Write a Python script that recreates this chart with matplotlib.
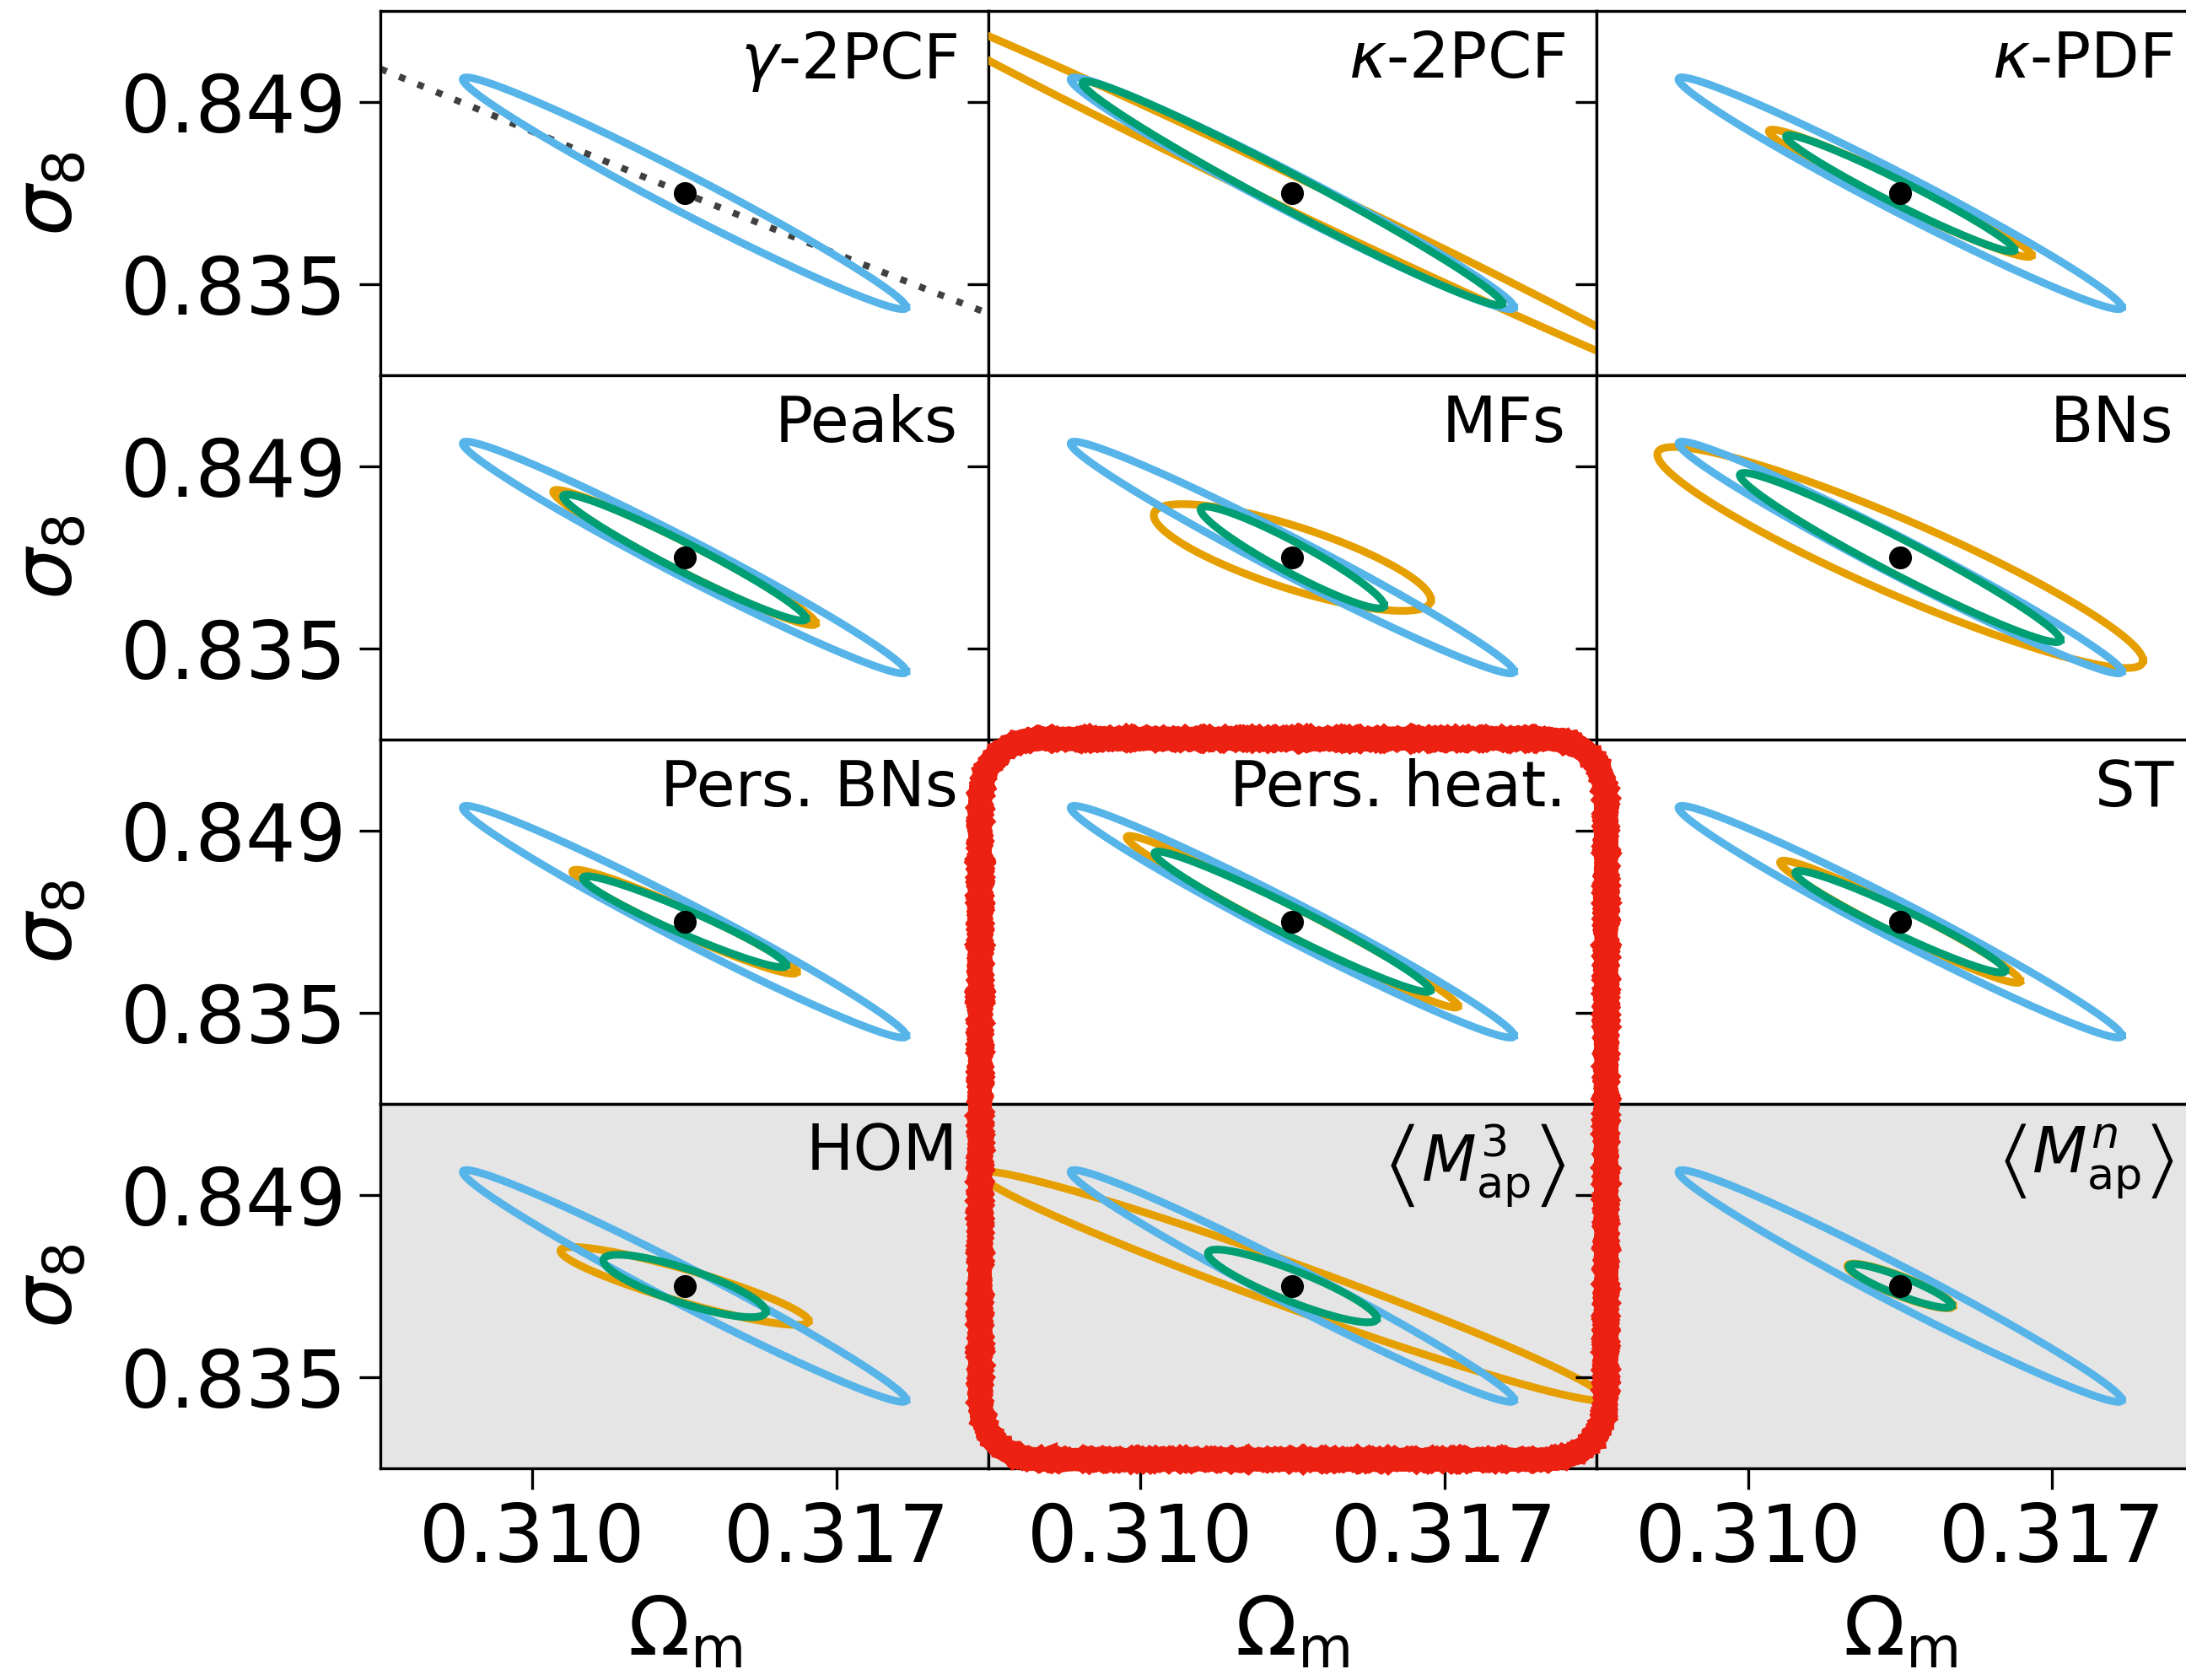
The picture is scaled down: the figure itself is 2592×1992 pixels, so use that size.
import numpy as np
import matplotlib.pyplot as plt
from matplotlib.patches import FancyBboxPatch

plt.rcParams['font.family'] = ['DejaVu Sans']
plt.rcParams['mathtext.fontset'] = 'dejavusans'
plt.rc('xtick', labelsize=22.5)
plt.rc('ytick', labelsize=22.5)
plt.rc('axes', labelsize=23)

# fiducial cosmology
om_fid = 0.3135
s8_fid = 0.842
k68 = 1.52  # sqrt(delta chi^2) for a 68% contour with 2 parameters

probes = [r'$\gamma$-2PCF', r'$\kappa$-2PCF', r'$\kappa$-PDF',
          'Peaks', 'MFs', 'BNs',
          'Pers. BNs', 'Pers. heat.', 'ST',
          'HOM', r'$\left\langle M_{\rm ap}^3 \right\rangle$',
          r'$\left\langle M_{\rm ap}^n \right\rangle$']

# gamma-2PCF alone (shown in every panel)
ref_sig_om = 0.00336
ref_sig_s8 = 0.00586
ref_rho = -0.9837

# each statistic alone
alone_sig_om = [np.nan, 0.00625, 0.00199, 0.00199, 0.00210, 0.00368,
                0.00170, 0.00251, 0.00182, 0.00188, 0.00474, 0.00080]
alone_sig_s8 = [np.nan, 0.01000, 0.00322, 0.00342, 0.00270, 0.00559,
                0.00263, 0.00434, 0.00309, 0.00197, 0.00579, 0.00113]
alone_rho = [np.nan, -0.9958, -0.9745, -0.9730, -0.7926, -0.9311,
             -0.9649, -0.9833, -0.9722, -0.9012, -0.9789, -0.8853]

# statistic combined with gamma-2PCF
comb_sig_om = [np.nan, 0.00318, 0.00173, 0.00184, 0.00139, 0.00243,
               0.00154, 0.00209, 0.00159, 0.00123, 0.00128, 0.00078]
comb_sig_s8 = [np.nan, 0.00566, 0.00294, 0.00319, 0.00257, 0.00428,
               0.00230, 0.00355, 0.00257, 0.00158, 0.00184, 0.00110]
comb_rho = [np.nan, -0.9847, -0.9747, -0.9689, -0.9428, -0.9730,
            -0.9583, -0.9750, -0.9631, -0.8182, -0.8912, -0.8935]

# S8 = sigma8 (Om/0.3)^alpha degeneracy direction
s8_alpha = 0.5

c_ref = '#56B4E9'
c_alone = '#E69F00'
c_comb = '#009E73'


def ellipse(ax, sx, sy, rho, color):
    if np.isnan(sx):
        return
    cov = np.array([[sx**2, rho * sx * sy], [rho * sx * sy, sy**2]])
    L = np.linalg.cholesky(cov)
    t = np.linspace(0, 2 * np.pi, 400)
    xy = k68 * L @ np.vstack([np.cos(t), np.sin(t)])
    ax.plot(om_fid + xy[0], s8_fid + xy[1], color=color, lw=2.2, zorder=3)


W, H = 2592 / 300, 1992 / 300
fig = plt.figure(figsize=(W, H), dpi=300)

left, top = 0.1741, 1 - 0.00664
pw, ph = 0.27806, 0.2168

for i, name in enumerate(probes):
    r, c = divmod(i, 3)
    ax = fig.add_axes([left + c * pw, top - (r + 1) * ph, pw, ph])
    if r == 3:
        ax.set_facecolor('#e5e5e5')
    ax.set_xlim(om_fid - 0.007, om_fid + 0.007)
    ax.set_ylim(s8_fid - 0.014, s8_fid + 0.014)
    ax.set_xticks([0.310, 0.317])
    ax.set_yticks([0.835, 0.849])
    ax.xaxis.set_major_formatter('{x:.3f}')
    ax.yaxis.set_major_formatter('{x:.3f}')
    ax.tick_params(direction='out', length=6)
    if r < 3:
        ax.tick_params(axis='x', bottom=False, labelbottom=False)
    else:
        ax.set_xlabel(r'$\Omega_{\rm m}$', labelpad=4)
    if c > 0:
        ax.tick_params(axis='y', labelleft=False)
    else:
        ax.set_ylabel(r'$\sigma_8$', labelpad=9)

    ellipse(ax, alone_sig_om[i], alone_sig_s8[i], alone_rho[i], c_alone)
    ellipse(ax, ref_sig_om, ref_sig_s8, ref_rho, c_ref)
    ellipse(ax, comb_sig_om[i], comb_sig_s8[i], comb_rho[i], c_comb)

    if i == 0:
        om = np.linspace(om_fid - 0.007, om_fid + 0.007, 200)
        s8_line = s8_fid * (om_fid / om) ** s8_alpha
        ax.plot(om, s8_line, color='0.25', lw=1.9, ls=(0, (1, 2)), zorder=2)

    ax.plot(om_fid, s8_fid, 'o', color='k', ms=5.5, zorder=5)
    ax.text(0.95, 0.95, name, transform=ax.transAxes, ha='right', va='top',
            fontsize=18, zorder=6)

# highlight box around the persistent heatmap / third-order aperture mass panels
box = FancyBboxPatch((3.874, 0.871), 6.348 - 3.874, 3.720 - 0.871,
                     boxstyle='round,pad=0,rounding_size=0.26',
                     transform=fig.dpi_scale_trans, fc='none', ec='#ec2111',
                     lw=6.5, zorder=10, clip_on=False)
box.set_sketch_params(scale=0.5, length=2, randomness=2)
fig.patches.append(box)

fig.savefig('out.png', dpi=300)
